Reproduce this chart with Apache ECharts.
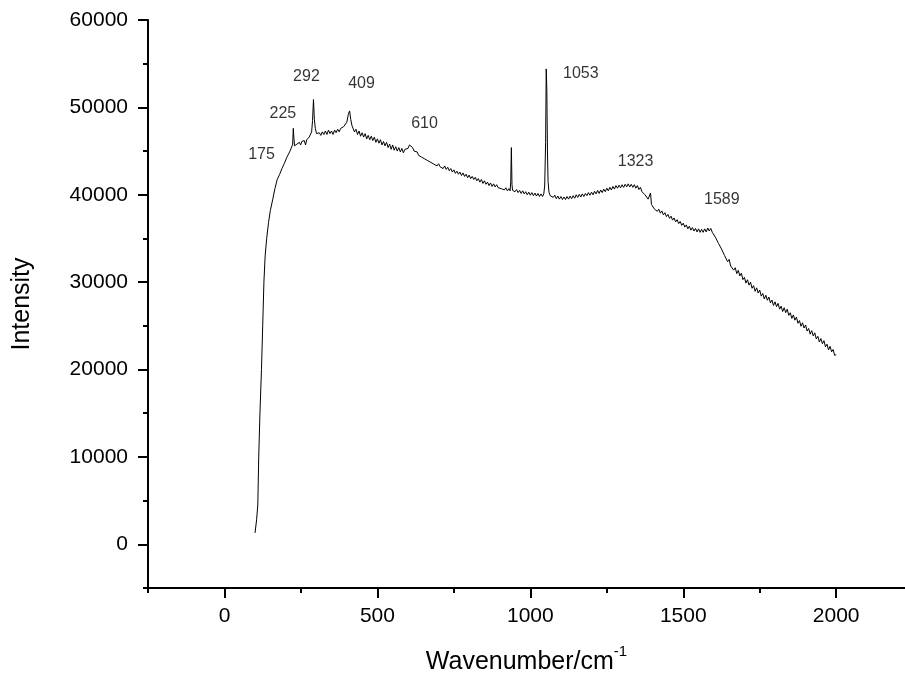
<!DOCTYPE html>
<html>
<head>
<meta charset="utf-8">
<script src="https://cdn.jsdelivr.net/npm/echarts@6/dist/echarts.min.js"></script>
<style>html,body{margin:0;padding:0;background:#fff}#c{width:905px;height:680px}</style>
</head>
<body>
<div id="c"></div>
<script>
// Raman spectrum
const wavenumber = [
100,105,109,112,116,121,125,129,133,138,144,150,158,165,172,180,188,196,204,213,220,223,225,227,229,233,237,241,245,249,253,257,261,265,269,273,277,281,285,288,291,294,297,301,305,310,315,320,325,330,335,340,345,350,355,360,365,370,375,380,385,390,395,400,405,409,413,417,421,425,430,435,440,445,450,455,460,465,470,475,480,485,490,495,500,505,510,515,520,525,530,535,540,545,550,555,560,565,570,575,580,585,590,595,600,605,610,615,620,625,630,635,640,645,650,655,660,665,670,675,680,685,690,695,
700,705,710,715,720,725,730,735,740,745,750,755,760,765,770,775,780,785,790,795,800,805,810,815,820,825,830,835,840,845,850,855,860,865,870,875,880,885,890,895,900,905,910,915,920,925,930,934,936,938,940,942,945,950,955,960,965,970,975,980,985,990,995,1000,1005,1010,1015,1020,1025,1030,1035,1040,1044,1047,1050,1052,1054,1056,1058,1061,1065,
1070,1075,1080,1085,1090,1095,1100,1105,1110,1115,1120,1125,1130,1135,1140,1145,1150,1155,1160,1165,1170,1175,1180,1185,1190,1195,1200,1205,1210,1215,1220,1225,1230,1235,1240,1245,1250,1255,1260,1265,1270,1275,1280,1285,1290,1295,1300,1305,1310,1315,1320,1325,1330,1335,1340,1345,1350,1355,1360,1365,1370,1375,1380,1385,1390,1393,1396,1400,1405,1410,1415,1420,1425,1430,1435,1440,1445,1450,1455,1460,1465,1470,1475,1480,1485,1490,1495,1500,1505,1510,1515,1520,1525,1530,1535,1540,1545,1550,1555,1560,1565,1570,1575,1580,1585,1590,1595,
1600,1605,1610,1615,1620,1625,1630,1635,1640,1645,1650,1655,1660,1665,1670,1675,1680,1685,1690,1695,1700,1705,1710,1715,1720,1725,1730,1735,1740,1745,1750,1755,1760,1765,1770,1775,1780,1785,1790,1795,1800,1805,1810,1815,1820,1825,1830,1835,1840,1845,1850,1855,1860,1865,1870,1875,1880,1885,1890,1895,1900,1905,1910,1915,1920,1925,1930,1935,1940,1945,1950,1955,1960,1965,1970,1975,1980,1985,1990,1995,2000
];
const intensity = [
1300,2800,4500,10000,15000,20000,25000,30000,33000,35000,36800,38200,39500,40700,41700,42300,43000,43600,44300,44900,45500,45800,47600,46500,45600,45400,45800,45600,46000,45700,46100,45900,46200,45700,46300,46400,46600,46700,47200,48500,50900,48600,47600,47000,46800,47100,46800,47200,46900,47300,46900,47400,47000,47300,46900,47400,47100,47500,47200,47600,47400,47800,47900,48300,49200,49600,48600,47900,47700,47200,47500,46900,47300,46700,47100,46600,47000,46400,46800,46300,46700,46200,46600,46000,46400,45900,46300,45700,46100,45600,46000,45400,45800,45200,45700,45100,45500,45000,45400,44900,45300,44800,45200,45100,45300,45700,45800,45400,45000,44800,44900,44500,44700,44300,44500,44100,44300,43900,44100,43700,43900,43500,43700,43300,
43550,43200,43400,43000,43300,42900,43150,42750,43000,42600,42850,42450,42700,42350,42600,42200,42500,42100,42350,41950,42250,41850,42100,41750,42000,41600,41850,41450,41750,41300,41600,41200,41450,41050,41350,40950,41250,40900,41150,40800,41000,40700,40900,40550,40800,40450,40700,40450,41500,45400,41200,40500,40650,40350,40600,40250,40500,40150,40450,40100,40350,40000,40300,39950,40250,39900,40200,39850,40150,39800,40100,39800,40100,41000,46000,54400,52000,45000,41500,40300,39900,
40100,39700,39950,39550,39850,39500,39800,39450,39750,39450,39800,39500,39850,39550,39900,39600,40000,39700,40050,39750,40100,39800,40150,39900,40250,39950,40300,40000,40400,40100,40500,40150,40550,40250,40650,40350,40750,40450,40850,40550,40950,40650,41050,40750,41100,40800,41150,40850,41200,40900,41250,40900,41200,40850,41150,40750,41050,40600,40850,40350,40550,40000,40100,39500,39700,40200,38900,38900,38400,38600,38100,38350,37900,38150,37700,37950,37500,37750,37300,37550,37100,37350,36900,37150,36700,36950,36500,36750,36300,36550,36100,36400,35950,36250,35850,36150,35750,36100,35700,36050,35700,36100,35750,36200,35850,36150,35700,
35700,35150,35250,34450,34550,33800,33900,33050,33100,32350,32600,31850,32050,31375,31650,30975,31350,30710,31025,30290,30550,29890,30275,29660,30000,29300,29600,28950,29350,28750,29100,28400,28700,28075,28500,27925,28300,27625,27950,27325,27750,27190,27575,26910,27250,26640,27075,26510,26900,26200,26500,25850,26250,25650,26000,25300,25600,24950,25350,24750,25100,24400,24700,24050,24450,23850,24200,23500,23800,23150,23550,22950,23300,22600,22900,22250,22650,22025,22300,21625,21700
];
// peak annotations: label, x (cm-1), y (intensity) of label centre
const peakLabels = ['175','225','292','409','610','1053','1323','1589'];
const peakLabelX = [121,191,268,448,654,1165,1344,1626];
const peakLabelY = [44600,49300,53500,52700,48100,53900,43800,39500];

const xMajor = [0,500,1000,1500,2000];
const xMinor = [-250,250,750,1250,1750];
const yMajor = [0,10000,20000,30000,40000,50000,60000];
const yMinor = [-5000,5000,15000,25000,35000,45000,55000];

const FONT = 'Liberation Sans, Arial, Helvetica, sans-serif';
const spectrum = wavenumber.map((w,i)=>[w,intensity[i]]);
const labelsData = peakLabels.map((t,i)=>[peakLabelX[i],peakLabelY[i],t]);

const axisLineStyle = {color:'#000', width:2};
const X_MIN = -250, X_MAX = 2225, Y_MIN = -5000, Y_MAX = 60000;
function tickAxis(min, max, pos, values, len){
  return {
    type:'value', min:min, max:max, position:pos,
    axisLine:{show:false, onZero:false},
    axisTick:{show:true, customValues:values, length:len, lineStyle:axisLineStyle},
    axisLabel:{show:false}, splitLine:{show:false}
  };
}
const chart = echarts.init(document.getElementById('c'), null, {renderer:'canvas'});
chart.setOption({
  backgroundColor:'#fff',
  animation:false,
  grid:{left:148, top:20, right:0, bottom:91, containLabel:false},
  xAxis:[{
    type:'value', min:X_MIN, max:X_MAX, position:'bottom',
    axisLine:{show:true, onZero:false, lineStyle:axisLineStyle},
    axisTick:{show:false},
    axisLabel:{customValues:xMajor, formatter:v=>String(v), fontSize:21, color:'#000', fontFamily:FONT, margin:18},
    splitLine:{show:false},
    name:'{a|Wavenumber/cm}{s|-1}', nameLocation:'middle', nameGap:56,
    nameTextStyle:{fontFamily:FONT, color:'#000', rich:{
      a:{fontSize:25, fontFamily:FONT, color:'#000', verticalAlign:'bottom', lineHeight:31},
      s:{fontSize:15, fontFamily:FONT, color:'#000', verticalAlign:'top', lineHeight:31}
    }}
  },
  tickAxis(X_MIN, X_MAX, 'bottom', xMajor, 10),
  tickAxis(X_MIN, X_MAX, 'bottom', xMinor, 5)
  ],
  yAxis:[{
    type:'value', min:Y_MIN, max:Y_MAX, position:'left',
    axisLine:{show:true, onZero:false, lineStyle:axisLineStyle},
    axisTick:{show:false},
    axisLabel:{customValues:yMajor, formatter:v=>String(v), fontSize:21, color:'#000', fontFamily:FONT, margin:20},
    splitLine:{show:false},
    name:'Intensity', nameLocation:'middle', nameGap:113,
    nameTextStyle:{fontSize:25, fontFamily:FONT, color:'#000'}
  },
  tickAxis(Y_MIN, Y_MAX, 'left', yMajor, 10),
  tickAxis(Y_MIN, Y_MAX, 'left', yMinor, 5)
  ],
  series:[{
    type:'line', data:spectrum, xAxisIndex:0, yAxisIndex:0,
    showSymbol:false, symbol:'none', smooth:false,
    lineStyle:{color:'#000', width:1}, silent:true
  },{
    type:'scatter', data:labelsData, xAxisIndex:0, yAxisIndex:0,
    symbolSize:0, silent:true,
    label:{show:true, position:'inside', formatter:p=>p.data[2], fontSize:16, color:'#000', fontFamily:FONT}
  }]
});
</script>
</body>
</html>
